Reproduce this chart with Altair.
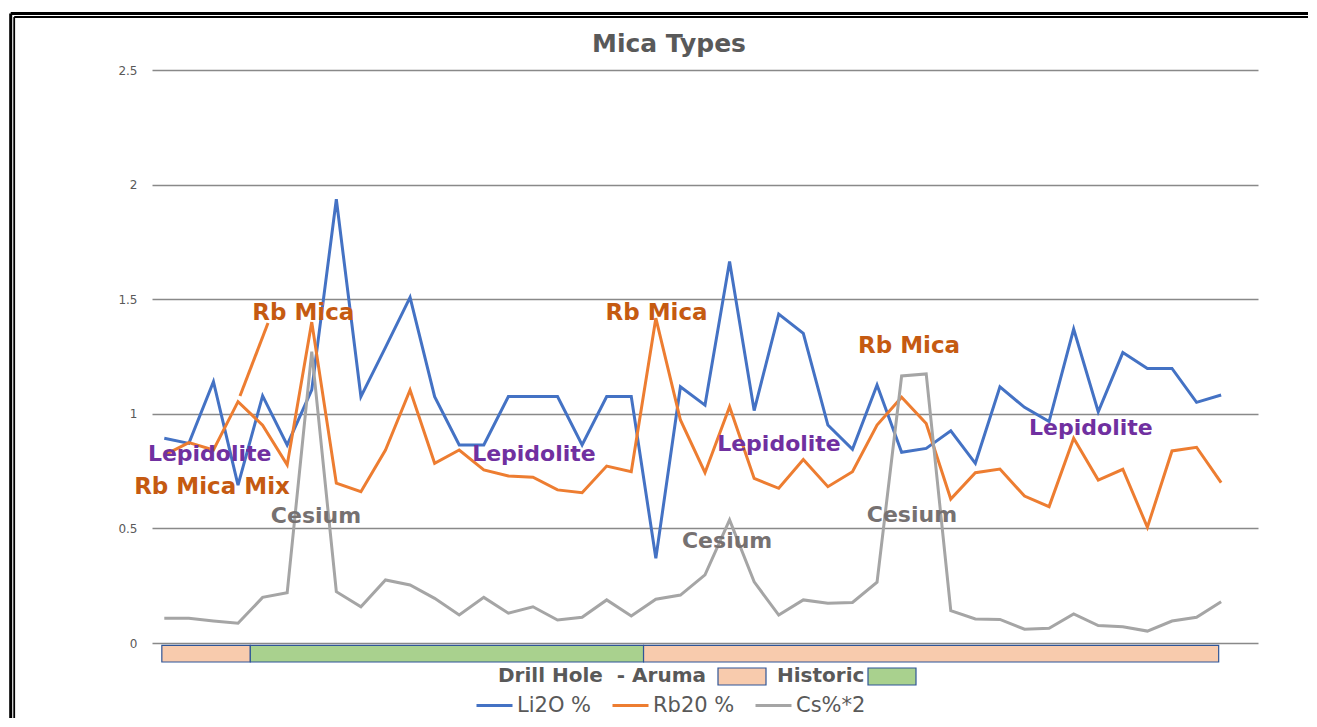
import altair as alt
import pandas as pd

# ---------------- data ----------------
li2o = [0.893, 0.871, 1.140, 0.689, 1.078, 0.864, 1.104, 1.936, 1.075, 1.29,
        1.508, 1.075, 0.864, 0.864, 1.075, 1.075, 1.075, 0.864, 1.075, 1.075,
        0.37, 1.118, 1.038, 1.664, 1.014, 1.435, 1.351, 0.951, 0.845, 1.126,
        0.832, 0.849, 0.926, 0.784, 1.118, 1.028, 0.966, 1.370, 1.009, 1.267,
        1.198, 1.198, 1.050, 1.082]
rb2o = [0.82, 0.874, 0.842, 1.053, 0.95, 0.777, 1.40, 0.697, 0.66, 0.842,
        1.104, 0.784, 0.842, 0.755, 0.729, 0.723, 0.668, 0.656, 0.772, 0.747,
        1.417, 0.973, 0.743, 1.031, 0.718, 0.675, 0.801, 0.682, 0.747, 0.951,
        1.072, 0.958, 0.628, 0.743, 0.759, 0.641, 0.595, 0.893, 0.711, 0.758,
        0.505, 0.838, 0.854, 0.70]
cs2 = [0.108, 0.108, 0.096, 0.086, 0.199, 0.219, 1.271, 0.224, 0.158, 0.275,
       0.253, 0.195, 0.122, 0.199, 0.130, 0.158, 0.100, 0.112, 0.188, 0.118,
       0.191, 0.209, 0.297, 0.537, 0.267, 0.122, 0.188, 0.173, 0.177, 0.265,
       1.165, 1.174, 0.141, 0.105, 0.103, 0.060, 0.064, 0.127, 0.076, 0.071,
       0.052, 0.096, 0.112, 0.180]
series_names = ["Li2O %", "Rb20 %", "Cs%*2"]
series_colors = ["#4472C4", "#ED7D31", "#A5A5A5"]

drill_start = [0.4, 4.0, 20.0]
drill_end = [4.0, 20.0, 43.4]
drill_type = ["Aruma", "Historic", "Aruma"]

rb_labels = ["Rb Mica", "Rb Mica", "Rb Mica", "Rb Mica Mix"]
rb_x = [6.156, 20.53, 30.80, 2.441]
rb_y = [1.440, 1.440, 1.296, 0.681]
lep_labels = ["Lepidolite", "Lepidolite", "Lepidolite", "Lepidolite"]
lep_x = [2.348, 15.54, 25.51, 38.20]
lep_y = [0.825, 0.825, 0.868, 0.940]
cs_labels = ["Cesium", "Cesium", "Cesium"]
cs_x = [6.673, 23.40, 30.92]
cs_y = [0.554, 0.445, 0.558]
leader = {"x": [3.58], "x2": [4.72], "y": [1.078], "y2": [1.396]}

# ---------------- tables ----------------
rows = []
for name, vals in zip(series_names, [li2o, rb2o, cs2]):
    for i, v in enumerate(vals):
        rows.append({"sample": i + 0.5, "value": v, "series": name})
df = pd.DataFrame(rows)
drill_df = pd.DataFrame({"start": drill_start, "end": drill_end, "type": drill_type})
rb_df = pd.DataFrame({"x": rb_x, "y": rb_y, "t": rb_labels})
lep_df = pd.DataFrame({"x": lep_x, "y": lep_y, "t": lep_labels})
cs_df = pd.DataFrame({"x": cs_x, "y": cs_y, "t": cs_labels})
leader_df = pd.DataFrame(leader)
one = pd.DataFrame({"a": [0]})

FONT = "DejaVu Sans"
x_scale = alt.Scale(domain=[0, 45])
y_scale = alt.Scale(domain=[0, 2.5])
y_axis = alt.Axis(values=[0, 0.5, 1, 1.5, 2, 2.5], labelExpr="'' + datum.value",
                  domain=False, ticks=False, grid=True, gridColor="#898989",
                  gridWidth=1.5, labelFont=FONT, labelFontSize=12,
                  labelColor="#595959", labelPadding=15, title=None)
color_scale = alt.Scale(domain=series_names, range=series_colors)
legend = alt.Legend(orient="none", legendX=323, legendY=616, direction="horizontal",
                    title=None, symbolType="stroke", symbolSize=1296,
                    symbolStrokeWidth=3, labelFont=FONT, labelFontSize=21,
                    labelColor="#595959", labelOffset=3, columnPadding=14,
                    gridAlign="none", padding=0)


def X(f):
    return alt.X(f, scale=x_scale, axis=None)


def Y(f):
    return alt.Y(f, scale=y_scale, axis=y_axis)


layers = []

# drill hole bar
layers.append(
    alt.Chart(drill_df).mark_rect(stroke="#2F5597", strokeWidth=1.2).encode(
        x=X("start:Q"), x2="end:Q",
        y=alt.YDatum(-0.01, scale=y_scale, axis=y_axis), y2=alt.datum(-0.083),
        fill=alt.Fill("type:N", scale=alt.Scale(domain=["Aruma", "Historic"],
                                                range=["#F8CBAD", "#A9D18E"]),
                      legend=None)
    )
)

# lines
for name in series_names:
    layers.append(
        alt.Chart(df[df.series == name]).mark_line(strokeWidth=3).encode(
            x=X("sample:Q"), y=Y("value:Q"),
            color=alt.Color("series:N", scale=color_scale, legend=legend)
        )
    )

# leader line of the first "Rb Mica" label
layers.append(
    alt.Chart(leader_df).mark_rule(color="#ED7D31", strokeWidth=3).encode(
        x=X("x:Q"), x2="x2:Q", y=Y("y:Q"), y2="y2:Q")
)

# annotations
for d, col, fs in [(rb_df, "#C55A11", 23), (lep_df, "#7030A0", 22), (cs_df, "#767171", 22)]:
    layers.append(
        alt.Chart(d).mark_text(font=FONT, fontSize=fs, fontWeight="bold", color=col,
                               align="center", baseline="middle").encode(
            x=X("x:Q"), y=Y("y:Q"), text="t:N")
    )

# chart title
layers.append(alt.Chart(one).mark_text(font=FONT, fontSize=25, fontWeight="bold",
                                       color="#595959", align="center",
                                       baseline="middle").encode(
    x=alt.value(517), y=alt.value(-26), text=alt.value("Mica Types")))

# bottom legend for the drill-hole bar
txt = dict(font=FONT, fontSize=20, fontWeight="bold", color="#595959",
           align="left", baseline="middle")
layers.append(alt.Chart(one).mark_text(**txt).encode(
    x=alt.value(346), y=alt.value(606), text=alt.value("Drill Hole\u00a0 - Aruma")))
layers.append(alt.Chart(one).mark_text(**txt).encode(
    x=alt.value(625), y=alt.value(606), text=alt.value("Historic")))
layers.append(alt.Chart(one).mark_rect(fill="#F8CBAD", stroke="#2F5597", strokeWidth=1.2).encode(
    x=alt.value(566), x2=alt.value(614), y=alt.value(598), y2=alt.value(615)))
layers.append(alt.Chart(one).mark_rect(fill="#A9D18E", stroke="#2F5597", strokeWidth=1.2).encode(
    x=alt.value(716), x2=alt.value(764), y=alt.value(598), y2=alt.value(615)))

# frame (double line, top and left visible)
for off, w in [(0, 3), (3.5, 1.8)]:
    layers.append(alt.Chart(one).mark_rule(color="black", strokeWidth=w).encode(
        x=alt.value(-141.3 + off), x2=alt.value(1170), y=alt.value(-56.5 + off)))
    layers.append(alt.Chart(one).mark_rule(color="black", strokeWidth=w).encode(
        x=alt.value(-141.3 + off), y=alt.value(-56.5 + off), y2=alt.value(660)))

chart = alt.layer(*layers).properties(
    width=1106, height=573,
    autosize=alt.AutoSizeParams(type="none"),
    padding={"left": 144, "top": 62, "right": 50, "bottom": 75},
).configure(background="white").configure_view(stroke=None)

chart.save("out.html", embed_options={"renderer": "svg", "actions": False})
